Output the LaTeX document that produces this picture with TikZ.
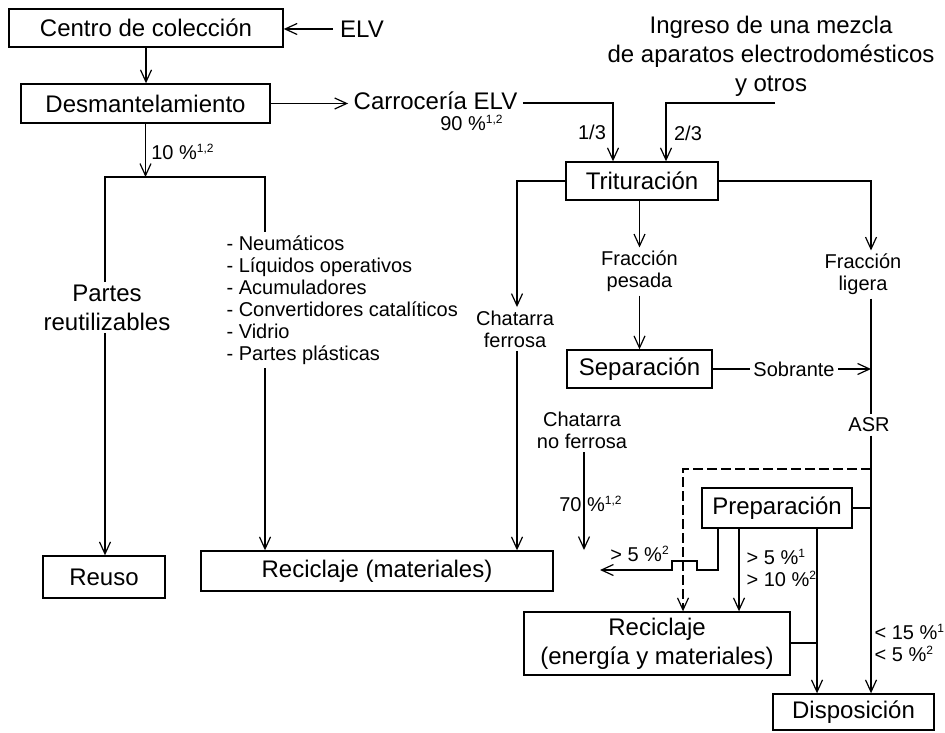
\documentclass[tikz,border=0pt]{standalone}
\usepackage{fontspec}
\setmainfont{Liberation Sans}
\usetikzlibrary{arrows.meta}

\newcommand\grande{\fontsize{12}{14.5}\selectfont}
\newcommand\chico{\fontsize{10}{11}\selectfont}
\newcommand\nota[1]{\textsuperscript{\fontsize{6}{6}\selectfont #1}}

\begin{document}
\begin{tikzpicture}[x=0.5pt,y=-0.5pt,line width=0.6pt,
>={Straight Barb[length=6pt,width=5.5pt]},
box/.style={draw,line width=0.7pt,font=\grande,inner sep=0pt},
txt/.style={font=\grande},
lbl/.style={font=\chico,align=center,inner sep=1.5pt},
guion/.style={dash pattern=on 5pt off 2pt}]
\useasboundingbox (0,0) rectangle (945,732);

% cajas
\node[box,minimum width=137pt,minimum height=19pt] (centro) at (146,28) {Centro de colección};
\node[box,minimum width=124.5pt,minimum height=19.5pt] (desm) at (145.5,103.5) {Desmantelamiento};
\node[box,minimum width=76pt,minimum height=19pt] (trit) at (642,181) {Trituración};
\node[box,minimum width=72.5pt,minimum height=19pt] (sep) at (639.5,369) {Separación};
\node[box,minimum width=75pt,minimum height=20pt] (prep) at (777,508) {Preparación};
\node[box,minimum width=61pt,minimum height=21pt] (reuso) at (104,577) {Reuso};
\node[box,minimum width=176pt,minimum height=20pt] (recmat) at (377,571) {Reciclaje (materiales)};
\node[box,minimum width=133pt,minimum height=31.5pt,align=center] (recen) at (657,643.5) {Reciclaje\\(energía y materiales)};
\node[box,minimum width=80.5pt,minimum height=18pt] (disp) at (853.5,712) {Disposición};

% textos
\node[txt] (elv) at (362,29) {ELV};
\node[txt,inner sep=2.5pt] (carr) at (435.5,101) {Carrocería ELV};
\node[txt,align=center] (ing) at (771,56.5) {Ingreso de una mezcla\\de aparatos electrodomésticos\\y otros};
\node[txt,align=center,inner sep=1pt] (partes) at (107,307.5) {Partes\\reutilizables};
\node[lbl,align=left,anchor=north west] (lista) at (223,232) {- Neumáticos\\- Líquidos operativos\\- Acumuladores\\- Convertidores catalíticos\\- Vidrio\\- Partes plásticas};
\node[lbl] (p10) at (183,152) {10 \%\nota{1,2}};
\node[lbl] (p90) at (472,123) {90 \%\nota{1,2}};
\node[lbl] (t1) at (592,132) {1/3};
\node[lbl] (t2) at (688,133) {2/3};
\node[lbl] (cf) at (515,329) {Chatarra\\ferrosa};
\node[lbl] (fp) at (639.5,271.5) {Fracción\\pesada};
\node[lbl] (fl) at (863,274.5) {Fracción\\ligera};
\node[lbl] (sob) at (794,369) {Sobrante};
\node[lbl] (asr) at (869,425) {ASR};
\node[lbl] (cnf) at (582,430.5) {Chatarra\\no ferrosa};
\node[lbl] (p70) at (591,504) {70 \%\nota{1,2}};
\node[lbl] (p5) at (640,554) {> 5 \%\nota{2}};
\node[lbl,align=left,anchor=west] (p510) at (743,568) {> 5 \%\nota{1}\\> 10 \%\nota{2}};
\node[lbl,align=left,anchor=west] (p15) at (871,643) {< 15 \%\nota{1}\\< 5 \%\nota{2}};

\coordinate (b1) at (105,177);
\coordinate (b2) at (265,177);
\coordinate (k1) at (613,103);
\coordinate (k2) at (775,103);
\coordinate (k3) at (666,103);
\coordinate (k4) at (517,181);
\coordinate (k6) at (871,181);
\coordinate (k7) at (871,469);
\coordinate (k8) at (683,469);
\coordinate (k9) at (718,570);
\coordinate (k10) at (600,570);
\coordinate (k11) at (739,528);
\coordinate (k12) at (817,643);
\coordinate (k13) at (584,550);

% flechas
\draw[->] (elv.west) -- (elv.west -| centro.east);
\draw[->] (centro.south) -- (centro.south |- desm.north);
\draw[->] (desm.east) -- (desm.east -| carr.west);
\draw[->] (carr.east |- k1) -- (k1) -- (k1 |- trit.north);
\draw[->] (k2) -- (k3) -- (k3 |- trit.north);
\draw[->] (desm.south) -- (desm.south |- b1);
\draw (partes.north -| b1) -- (b1) -- (b2) -- (b2 |- lista.north);
\draw[->] (partes.south -| b1) -- (b1 |- reuso.north);
\draw[->] (lista.south -| b2) -- (b2 |- recmat.north);
\draw[->] (trit.west) -- (k4) -- (k4 |- cf.north);
\draw[->] (cf.south -| k4) -- (k4 |- recmat.north);
\draw[->] (trit.south -| fp) -- (fp.north);
\draw[->] (fp.south) -- (fp.south |- sep.north);
\draw[->] (trit.east) -- (k6) -- (k6 |- fl.north);
\draw (fl.south -| k6) -- (k6 |- asr.north);
\draw (sep.east) -- (sob.west);
\draw[->] (sob.east) -- (sob.east -| k6);
\draw[->] (asr.south -| k6) -- (k6 |- disp.north);
\draw[->,guion] (k7) -- (k8) -- (k8 |- recen.north);
\draw (prep.east) -- (prep.east -| k6);
\draw[->] (k9 |- prep.south) -- (k9) -- ++(-21,0) -- ++(0,-9) -- ++(-25,0) -- ++(0,9) -- (k10);
\draw[->] (k11 |- prep.south) -- (k11 |- recen.north);
\draw[->] (k12 |- prep.south) -- (k12 |- disp.north);
\draw (recen.east |- k12) -- (k12);
\draw[->] (cnf.south -| k13) -- (k13);
\end{tikzpicture}
\end{document}
